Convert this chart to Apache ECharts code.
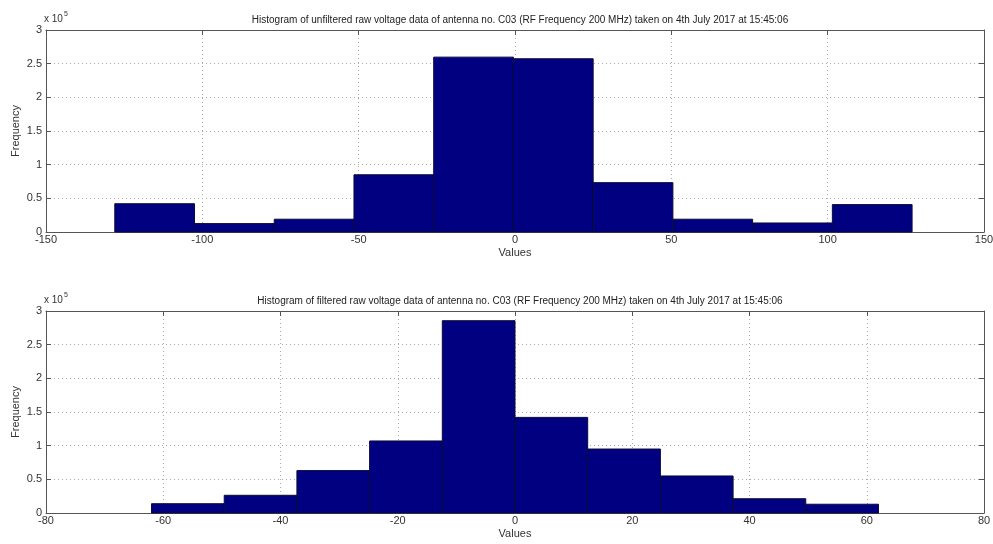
<!DOCTYPE html>
<html>
<head>
<meta charset="utf-8">
<script src="https://cdn.jsdelivr.net/npm/echarts@6/dist/echarts.min.js"></script>
<style>
  html, body { margin: 0; padding: 0; background: #fff; }
  #chart { width: 993px; height: 544px; }
</style>
</head>
<body>
<div id="chart"></div>
<script>
// bin edges and counts
const topEdges = [-128, -102.5, -77, -51.5, -26, -0.5, 25, 50.5, 76, 101.5, 127]
const topCounts = [42000, 12500, 19000, 85000, 259700, 257300, 73300, 19000, 13400, 40700]
const bottomEdges = [-62, -49.6, -37.2, -24.8, -12.4, 0, 12.4, 24.8, 37.2, 49.6, 62]
const bottomCounts = [13800, 26300, 63000, 107000, 285600, 142000, 95000, 55000, 21200, 13000]

const topTitle = 'Histogram of unfiltered raw voltage data of antenna no. C03 (RF Frequency 200 MHz) taken on 4th July 2017 at 15:45:06'
const bottomTitle = 'Histogram of filtered raw voltage data of antenna no. C03 (RF Frequency 200 MHz) taken on 4th July 2017 at 15:45:06'

const FONT = 'Liberation Sans, Arial, sans-serif'
const axisColor = '#555'
const labelStyle = { color: '#333', fontSize: 11, fontFamily: FONT }

function toBins(edges, counts) {
  return counts.map((c, i) => [edges[i], edges[i + 1], c])
}

function renderBin(params, api) {
  const p0 = api.coord([api.value(0), api.value(2)])
  const p1 = api.coord([api.value(1), 0])
  return {
    type: 'rect',
    shape: { x: p0[0], y: p0[1], width: p1[0] - p0[0], height: p1[1] - p0[1] },
    style: { fill: '#000080', stroke: '#0a0a3a', lineWidth: 1 },
  }
}

function xAxes(gridIndex, min, max, interval) {
  const base = {
    gridIndex, type: 'value', min, max, interval,
    axisLine: { show: true, onZero: false, lineStyle: { color: axisColor } },
    axisTick: { show: true, inside: true, length: 5, lineStyle: { color: axisColor } },
  }
  return [
    {
      ...base, position: 'bottom',
      name: 'Values', nameLocation: 'middle', nameGap: 15, nameMoveOverlap: false,
      nameTextStyle: { ...labelStyle },
      axisLabel: { ...labelStyle, margin: 2 },
      splitLine: { show: true, lineStyle: { color: '#aaa', type: [1, 3] } },
    },
    { ...base, position: 'top', axisLabel: { show: false }, splitLine: { show: false } },
  ]
}

function yAxes(gridIndex) {
  const base = {
    gridIndex, type: 'value', min: 0, max: 300000, interval: 50000,
    axisLine: { show: true, onZero: false, lineStyle: { color: axisColor } },
    axisTick: { show: true, inside: true, length: 5, lineStyle: { color: axisColor } },
  }
  return [
    {
      ...base, position: 'left',
      name: 'Frequency', nameLocation: 'middle', nameGap: 25, nameMoveOverlap: false,
      nameTextStyle: { ...labelStyle },
      axisLabel: { ...labelStyle, margin: 4, formatter: v => String(v / 100000) },
      splitLine: { show: true, lineStyle: { color: '#aaa', type: [1, 3] } },
    },
    { ...base, position: 'right', axisLabel: { show: false }, splitLine: { show: false } },
  ]
}

const chart = echarts.init(document.getElementById('chart'), null, { renderer: 'canvas' })

chart.setOption({
  backgroundColor: '#fff',
  animation: false,
  title: [
    { text: topTitle, left: 515, top: 10, textAlign: 'center', textStyle: { fontSize: 10, fontWeight: 'normal', color: '#222', fontFamily: FONT } },
    { text: bottomTitle, left: 515, top: 291, textAlign: 'center', textStyle: { fontSize: 10, fontWeight: 'normal', color: '#222', fontFamily: FONT } },
  ],
  grid: [
    { left: 46, right: 9, top: 30, height: 202, outerBoundsMode: 'none' },
    { left: 46, right: 9, top: 311, height: 202, outerBoundsMode: 'none' },
  ],
  xAxis: [...xAxes(0, -150, 150, 50), ...xAxes(1, -80, 80, 20)],
  yAxis: [...yAxes(0), ...yAxes(1)],
  graphic: [
    {
      type: 'text', left: 44, top: 11,
      style: {
        text: '{b|x 10}{s|5}',
        rich: {
          b: { fontSize: 10, fontFamily: FONT, fill: '#333', verticalAlign: 'bottom' },
          s: { fontSize: 7, fontFamily: FONT, fill: '#333', verticalAlign: 'top', padding: [0, 0, 6, 1] },
        },
      },
    },
    {
      type: 'text', left: 44, top: 292,
      style: {
        text: '{b|x 10}{s|5}',
        rich: {
          b: { fontSize: 10, fontFamily: FONT, fill: '#333', verticalAlign: 'bottom' },
          s: { fontSize: 7, fontFamily: FONT, fill: '#333', verticalAlign: 'top', padding: [0, 0, 6, 1] },
        },
      },
    },
  ],
  series: [
    {
      type: 'custom', xAxisIndex: 0, yAxisIndex: 0,
      data: toBins(topEdges, topCounts),
      encode: { x: [0, 1], y: 2 },
      renderItem: renderBin,
    },
    {
      type: 'custom', xAxisIndex: 2, yAxisIndex: 2,
      data: toBins(bottomEdges, bottomCounts),
      encode: { x: [0, 1], y: 2 },
      renderItem: renderBin,
    },
  ],
})
</script>
</body>
</html>
